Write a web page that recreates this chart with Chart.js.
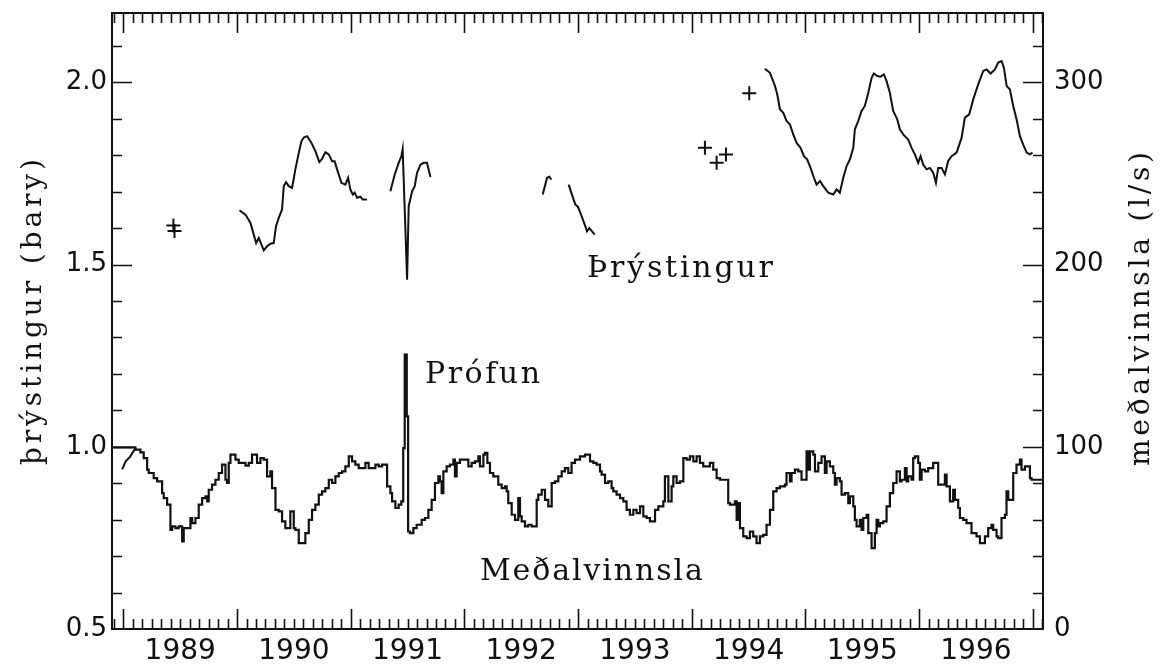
<!DOCTYPE html>
<html>
<head>
<meta charset="utf-8">
<script src="https://cdn.jsdelivr.net/npm/chart.js@4.4.0/dist/chart.umd.min.js"></script>
<style>
  html, body { margin: 0; padding: 0; background: #fff; }
</style>
</head>
<body>
<canvas id="chart" width="1167" height="669"></canvas>
<script>
// year labels sit in the middle of each year
const yearLabels = [1989, 1990, 1991, 1992, 1993, 1994, 1995, 1996];
const barTicks = [0.5, 1.0, 1.5, 2.0];
const flowTicks = [0, 100, 200, 300];

// meðalvinnsla (l/s), step series: value holds from time t until next t
const medT = [
  1988.901, 1989.106, 1989.150, 1989.179, 1989.209, 1989.223, 1989.267, 1989.297, 1989.341, 1989.355,
  1989.385, 1989.414, 1989.429, 1989.458, 1989.487, 1989.517, 1989.531, 1989.590, 1989.605, 1989.634,
  1989.663, 1989.693, 1989.722, 1989.737, 1989.751, 1989.780, 1989.810, 1989.839, 1989.868, 1989.898,
  1989.912, 1989.927, 1989.942, 1989.986, 1990.015, 1990.074, 1990.103, 1990.132, 1990.176, 1990.206,
  1990.235, 1990.264, 1990.293, 1990.308, 1990.338, 1990.367, 1990.396, 1990.425, 1990.469, 1990.499,
  1990.513, 1990.543, 1990.601, 1990.631, 1990.660, 1990.689, 1990.719, 1990.748, 1990.777, 1990.807,
  1990.836, 1990.865, 1990.895, 1990.924, 1990.953, 1990.983, 1991.012, 1991.041, 1991.070, 1991.129,
  1991.158, 1991.217, 1991.246, 1991.276, 1991.320, 1991.349, 1991.364, 1991.393, 1991.422, 1991.445,
  1991.462, 1991.475, 1991.493, 1991.505, 1991.521, 1991.551, 1991.580, 1991.624, 1991.653, 1991.683,
  1991.712, 1991.741, 1991.771, 1991.785, 1991.800, 1991.815, 1991.844, 1991.873, 1991.903, 1991.917,
  1991.932, 1991.961, 1992.035, 1992.064, 1992.093, 1992.123, 1992.137, 1992.167, 1992.181, 1992.202,
  1992.225, 1992.254, 1992.298, 1992.328, 1992.357, 1992.372, 1992.386, 1992.416, 1992.445, 1992.474,
  1992.489, 1992.504, 1992.533, 1992.562, 1992.592, 1992.636, 1992.650, 1992.680, 1992.709, 1992.738,
  1992.768, 1992.797, 1992.826, 1992.856, 1992.885, 1992.914, 1992.943, 1992.973, 1993.017, 1993.061,
  1993.105, 1993.134, 1993.163, 1993.193, 1993.207, 1993.237, 1993.266, 1993.295, 1993.310, 1993.339,
  1993.369, 1993.398, 1993.427, 1993.456, 1993.486, 1993.515, 1993.545, 1993.574, 1993.603, 1993.632,
  1993.677, 1993.706, 1993.750, 1993.764, 1993.794, 1993.823, 1993.838, 1993.867, 1993.896, 1993.926,
  1993.955, 1993.984, 1994.014, 1994.043, 1994.072, 1994.101, 1994.160, 1994.189, 1994.219, 1994.248,
  1994.321, 1994.336, 1994.380, 1994.395, 1994.409, 1994.424, 1994.453, 1994.483, 1994.512, 1994.541,
  1994.570, 1994.600, 1994.629, 1994.658, 1994.688, 1994.717, 1994.746, 1994.776, 1994.820, 1994.834,
  1994.864, 1994.878, 1994.908, 1994.937, 1994.966, 1995.010, 1995.025, 1995.040, 1995.069, 1995.084,
  1995.113, 1995.142, 1995.171, 1995.186, 1995.215, 1995.245, 1995.259, 1995.274, 1995.303, 1995.318,
  1995.347, 1995.377, 1995.391, 1995.421, 1995.435, 1995.450, 1995.479, 1995.494, 1995.509, 1995.538,
  1995.553, 1995.582, 1995.611, 1995.626, 1995.641, 1995.655, 1995.685, 1995.714, 1995.743, 1995.772,
  1995.802, 1995.831, 1995.846, 1995.875, 1995.890, 1995.904, 1995.934, 1995.948, 1995.963, 1995.992,
  1996.007, 1996.022, 1996.051, 1996.080, 1996.124, 1996.168, 1996.227, 1996.242, 1996.271, 1996.300,
  1996.315, 1996.344, 1996.359, 1996.388, 1996.417, 1996.461, 1996.505, 1996.535, 1996.579, 1996.608,
  1996.637, 1996.652, 1996.681, 1996.696, 1996.725, 1996.755, 1996.769, 1996.784, 1996.828, 1996.857,
  1996.887, 1996.901, 1996.931, 1996.975, 1996.989, 1997.089
];
const medV = [
  99.7, 98.4, 96.9, 93.8, 87.4, 85.6, 82.8, 81.0, 74.6, 71.8,
  68.2, 54.4, 56.3, 55.4, 56.3, 48.0, 55.4, 60.9, 58.1, 60.9,
  68.2, 71.8, 72.8, 70.0, 76.4, 79.2, 81.9, 85.6, 90.2, 81.9,
  80.1, 91.1, 95.7, 92.9, 91.1, 89.6, 91.1, 95.7, 91.1, 93.8,
  92.9, 83.8, 86.5, 77.3, 65.4, 64.5, 59.0, 55.4, 64.5, 55.4,
  54.4, 47.1, 52.6, 59.9, 65.4, 68.2, 73.7, 75.5, 77.3, 81.9,
  80.1, 83.8, 85.6, 86.5, 89.2, 94.7, 92.0, 90.2, 88.3, 91.1,
  88.3, 90.2, 89.2, 90.2, 78.3, 74.6, 70.0, 66.4, 68.2, 70.0,
  99.3, 150.6, 116.7, 53.5, 52.6, 55.4, 57.2, 59.9, 60.9, 65.4,
  70.9, 80.1, 83.8, 81.0, 74.6, 86.5, 89.2, 90.2, 92.9, 83.8,
  91.1, 92.9, 89.2, 91.1, 92.0, 94.7, 89.2, 95.7, 96.6, 91.1,
  85.6, 83.8, 79.2, 77.3, 78.3, 75.5, 69.1, 62.7, 59.9, 71.8,
  61.8, 59.0, 56.3, 57.2, 56.3, 70.9, 73.7, 76.4, 70.9, 67.3,
  80.1, 81.0, 83.8, 86.5, 88.3, 85.6, 91.1, 92.9, 94.7, 95.7,
  92.0, 91.1, 90.2, 86.5, 84.7, 80.1, 81.0, 77.3, 75.5, 73.7,
  71.8, 70.0, 65.4, 62.7, 65.4, 63.6, 67.3, 61.8, 60.9, 59.0,
  65.4, 67.3, 70.0, 83.8, 70.0, 78.3, 83.8, 80.1, 81.0, 93.8,
  92.9, 94.7, 92.0, 94.7, 91.1, 89.2, 91.1, 87.4, 82.8, 81.9,
  69.1, 68.2, 70.0, 59.9, 69.1, 55.4, 50.8, 49.9, 53.5, 50.8,
  47.1, 50.8, 51.7, 57.2, 65.4, 75.5, 77.3, 78.3, 79.2, 85.6,
  81.0, 85.6, 87.4, 86.5, 81.9, 97.5, 87.4, 97.5, 95.7, 86.5,
  91.1, 94.7, 85.6, 92.0, 89.2, 85.6, 79.2, 82.8, 81.0, 73.7,
  74.6, 69.1, 72.8, 67.3, 59.9, 56.3, 59.9, 54.4, 60.9, 62.7,
  52.6, 44.4, 52.6, 59.9, 56.3, 58.1, 59.0, 67.3, 74.6, 80.1,
  86.5, 81.0, 81.9, 88.3, 81.0, 83.8, 81.9, 93.8, 94.7, 91.1,
  81.9, 87.4, 86.5, 88.3, 91.1, 79.2, 84.7, 78.3, 70.0, 76.4,
  70.9, 66.4, 60.9, 59.9, 58.1, 52.6, 50.8, 47.1, 50.8, 55.4,
  57.2, 54.4, 50.8, 49.9, 60.9, 62.7, 75.5, 70.9, 85.6, 90.2,
  92.9, 87.4, 89.2, 82.8, 81.9, 81.9
];

// þrýstingur (bar), measured in separate stretches
const pres0T = [1988.99, 1989.02, 1989.06, 1989.105];
const pres0V = [0.938, 0.960, 0.973, 0.996];

const pres1T = [
  1990.021, 1990.074, 1990.118, 1990.147, 1990.168, 1990.191, 1990.214, 1990.235, 1990.264, 1990.294,
  1990.323, 1990.343, 1990.367, 1990.396, 1990.411, 1990.431, 1990.455, 1990.484, 1990.513, 1990.543,
  1990.566, 1990.587, 1990.616, 1990.654, 1990.689, 1990.724, 1990.748, 1990.777, 1990.807, 1990.836,
  1990.859, 1990.880, 1990.918, 1990.953, 1990.977, 1990.997, 1991.018, 1991.035, 1991.056, 1991.085,
  1991.106, 1991.144
];
const pres1V = [
  1.649, 1.637, 1.614, 1.582, 1.559, 1.573, 1.555, 1.539, 1.550, 1.557,
  1.559, 1.605, 1.628, 1.651, 1.715, 1.726, 1.715, 1.710, 1.761, 1.806,
  1.838, 1.848, 1.852, 1.834, 1.811, 1.781, 1.790, 1.808, 1.802, 1.783,
  1.783, 1.761, 1.724, 1.719, 1.738, 1.706, 1.692, 1.697, 1.683, 1.686,
  1.678, 1.678
];

const pres2T = [1991.349, 1991.387, 1991.422, 1991.446, 1991.457, 1991.496, 1991.510, 1991.540, 1991.563, 1991.583, 1991.613, 1991.642, 1991.671, 1991.701];
const pres2V = [1.701, 1.747, 1.779, 1.797, 1.817, 1.458, 1.660, 1.701, 1.715, 1.751, 1.774, 1.779, 1.779, 1.740];

const pres3T = [1992.689, 1992.727, 1992.747, 1992.765];
const pres3V = [1.692, 1.738, 1.741, 1.733];

const pres4T = [1992.917, 1992.961, 1992.976, 1992.999, 1993.020, 1993.058, 1993.079, 1993.099, 1993.123, 1993.146];
const pres4V = [1.719, 1.678, 1.665, 1.658, 1.642, 1.610, 1.591, 1.600, 1.591, 1.582];

const pres5T = [
  1994.644, 1994.688, 1994.732, 1994.752, 1994.776, 1994.805, 1994.834, 1994.864, 1994.893, 1994.922,
  1994.957, 1994.987, 1995.016, 1995.045, 1995.075, 1995.098, 1995.128, 1995.157, 1995.201, 1995.245,
  1995.274, 1995.303, 1995.333, 1995.362, 1995.391, 1995.421, 1995.435, 1995.465, 1995.494, 1995.523,
  1995.553, 1995.582, 1995.602, 1995.632, 1995.661, 1995.690, 1995.714, 1995.743, 1995.772, 1995.808,
  1995.831, 1995.860, 1995.904, 1995.934, 1995.963, 1995.992, 1996.013, 1996.036, 1996.066, 1996.095,
  1996.124, 1996.148, 1996.168, 1996.198, 1996.227, 1996.256, 1996.286, 1996.330, 1996.374, 1996.403,
  1996.441, 1996.476, 1996.520, 1996.564, 1996.594, 1996.629, 1996.667, 1996.696, 1996.726, 1996.746,
  1996.770, 1996.799, 1996.828, 1996.858, 1996.887, 1996.916, 1996.946, 1996.975, 1996.998
];
const pres5V = [
  2.037, 2.026, 1.990, 1.967, 1.926, 1.916, 1.894, 1.884, 1.857, 1.834,
  1.820, 1.797, 1.788, 1.765, 1.738, 1.719, 1.729, 1.715, 1.697, 1.692,
  1.706, 1.697, 1.738, 1.770, 1.788, 1.820, 1.871, 1.894, 1.921, 1.935,
  1.971, 2.012, 2.024, 2.017, 2.015, 2.022, 2.003, 1.971, 1.921, 1.898,
  1.871, 1.857, 1.843, 1.820, 1.802, 1.779, 1.797, 1.774, 1.761, 1.765,
  1.752, 1.724, 1.765, 1.765, 1.747, 1.784, 1.797, 1.807, 1.848, 1.903,
  1.912, 1.953, 1.994, 2.031, 2.035, 2.024, 2.035, 2.054, 2.058, 2.040,
  1.990, 1.980, 1.935, 1.898, 1.852, 1.829, 1.807, 1.802, 1.807
];

// single readings (+)
const crossT = [1989.440, 1989.450, 1994.116, 1994.219, 1994.301, 1994.506];
const crossV = [1.607, 1.592, 1.820, 1.779, 1.802, 1.970];

const toPoints = (ts, vs) => ts.map((t, i) => ({ x: t, y: vs[i] }));

const presSegments = [
  [pres0T, pres0V], [pres1T, pres1V], [pres2T, pres2V],
  [pres3T, pres3V], [pres4T, pres4V], [pres5T, pres5V],
];

const datasets = [
  {
    label: "Meðalvinnsla",
    data: toPoints(medT, medV),
    yAxisID: "y2",
    stepped: true,
    borderColor: "#111",
    borderWidth: 2.2,
    pointRadius: 0,
    fill: false,
  },
  {
    label: "mælingar",
    data: toPoints(crossT, crossV),
    yAxisID: "y",
    showLine: false,
    pointStyle: "cross",
    pointRadius: 7,
    pointBorderWidth: 2,
    borderColor: "#111",
  },
];
presSegments.forEach(([ts, vs]) => {
  datasets.push({
    label: "Þrýstingur",
    data: toPoints(ts, vs),
    yAxisID: "y",
    borderColor: "#111",
    borderWidth: 2,
    pointRadius: 0,
    tension: 0,
    fill: false,
  });
});

// text placed in the plot (data coordinates: year, bar)
const notes = [
  { text: "Þrýstingur", t: 1993.078, bar: 1.467, width: 186 },
  { text: "Prófun", t: 1991.653, bar: 1.176, width: 115 },
  { text: "Meðalvinnsla", t: 1992.137, bar: 0.634, width: 223 },
];

// draw text with extra letter spacing so it spans a given width
function spacedText(ctx, text, x, y, width) {
  const chars = Array.from(text);
  const widths = chars.map((c) => ctx.measureText(c).width);
  const natural = widths.reduce((a, b) => a + b, 0);
  const gap = chars.length > 1 ? (width - natural) / (chars.length - 1) : 0;
  let cx = x;
  chars.forEach((c, i) => {
    ctx.fillText(c, cx, y);
    cx += widths[i] + gap;
  });
}

const framePlugin = {
  id: "frame",
  afterDraw(chart) {
    const { ctx, chartArea: a, scales } = chart;
    const sx = scales.x, sy = scales.y, sy2 = scales.y2;
    ctx.save();
    ctx.strokeStyle = "#111";
    ctx.lineWidth = 2;
    ctx.strokeRect(a.left, a.top, a.right - a.left, a.bottom - a.top);

    ctx.lineWidth = 1.6;
    ctx.beginPath();
    // month ticks, top and bottom, pointing inward
    for (let m = -1; m <= 98; m++) {
      const t = 1989 + m / 12;
      if (t <= sx.min || t >= sx.max) continue;
      const px = Math.round(sx.getPixelForValue(t)) + 0.5;
      const len = m % 12 === 0 ? 20 : 10;
      ctx.moveTo(px, a.bottom);
      ctx.lineTo(px, a.bottom - len);
      ctx.moveTo(px, a.top);
      ctx.lineTo(px, a.top + len);
    }
    // left axis ticks every 0.1 bar
    for (let k = 6; k <= 21; k++) {
      const v = k / 10;
      const py = Math.round(sy.getPixelForValue(v)) + 0.5;
      const len = k % 5 === 0 ? 20 : 10;
      ctx.moveTo(a.left, py);
      ctx.lineTo(a.left + len, py);
    }
    // right axis ticks every 20 l/s
    for (let v = 20; v <= 320; v += 20) {
      const py = Math.round(sy2.getPixelForValue(v)) + 0.5;
      const len = v % 100 === 0 ? 20 : 10;
      ctx.moveTo(a.right, py);
      ctx.lineTo(a.right - len, py);
    }
    ctx.stroke();

    // notes in the plot
    ctx.fillStyle = "#111";
    ctx.font = "30px 'DejaVu Serif'";
    ctx.textBaseline = "alphabetic";
    ctx.textAlign = "left";
    notes.forEach((n) => {
      spacedText(ctx, n.text, sx.getPixelForValue(n.t), sy.getPixelForValue(n.bar), n.width);
    });

    // axis titles, both read bottom to top
    ctx.font = "28px 'DejaVu Serif'";
    ctx.textBaseline = "middle";
    ctx.save();
    ctx.translate(34, 312);
    ctx.rotate(-Math.PI / 2);
    spacedText(ctx, "þrýstingur (bary)", -153, 0, 306);
    ctx.restore();
    ctx.save();
    ctx.translate(1142, 309);
    ctx.rotate(-Math.PI / 2);
    spacedText(ctx, "meðalvinnsla (l/s)", -157, 0, 314);
    ctx.restore();
    ctx.restore();
  },
};

const tickFont = { family: "'DejaVu Sans'", size: 26 };

// keep the plot frame at fixed edges: no extra room for half labels
const noPad = (scale) => {
  scale.paddingTop = 0;
  scale.paddingBottom = 0;
  scale.paddingLeft = 0;
  scale.paddingRight = 0;
};

new Chart(document.getElementById("chart"), {
  type: "line",
  data: { datasets: datasets },
  options: {
    responsive: false,
    devicePixelRatio: 1,
    animation: false,
    layout: { padding: { top: 13, left: 0, right: 0, bottom: 0 } },
    plugins: { legend: { display: false }, tooltip: { enabled: false } },
    scales: {
      x: {
        type: "linear",
        position: "bottom",
        min: 1988.9,
        max: 1997.09,
        grid: { display: false, drawTicks: false },
        border: { display: false },
        afterBuildTicks: (scale) => {
          scale.ticks = yearLabels.map((y) => ({ value: y + 0.5 }));
        },
        afterFit: (scale) => { scale.height = 40; noPad(scale); },
        ticks: {
          autoSkip: false,
          maxRotation: 0,
          padding: 6,
          color: "#111",
          font: { family: "'DejaVu Sans'", size: 28 },
          callback: (v) => String(Math.floor(v)),
        },
      },
      y: {
        type: "linear",
        position: "left",
        min: 0.5,
        max: 2.19,
        grid: { display: false, drawTicks: false },
        border: { display: false },
        afterBuildTicks: (scale) => {
          scale.ticks = barTicks.map((v) => ({ value: v }));
        },
        afterFit: (scale) => { scale.width = 112; noPad(scale); },
        ticks: {
          padding: 5,
          color: "#111",
          font: tickFont,
          callback: (v) => Number(v).toFixed(1),
        },
      },
      y2: {
        type: "linear",
        position: "right",
        min: 0,
        max: 338,
        grid: { display: false, drawTicks: false },
        border: { display: false },
        afterBuildTicks: (scale) => {
          scale.ticks = flowTicks.map((v) => ({ value: v }));
        },
        afterFit: (scale) => { scale.width = 124; noPad(scale); },
        ticks: {
          padding: 11,
          color: "#111",
          font: tickFont,
          callback: (v) => String(v),
        },
      },
    },
  },
  plugins: [framePlugin],
});
</script>
</body>
</html>
